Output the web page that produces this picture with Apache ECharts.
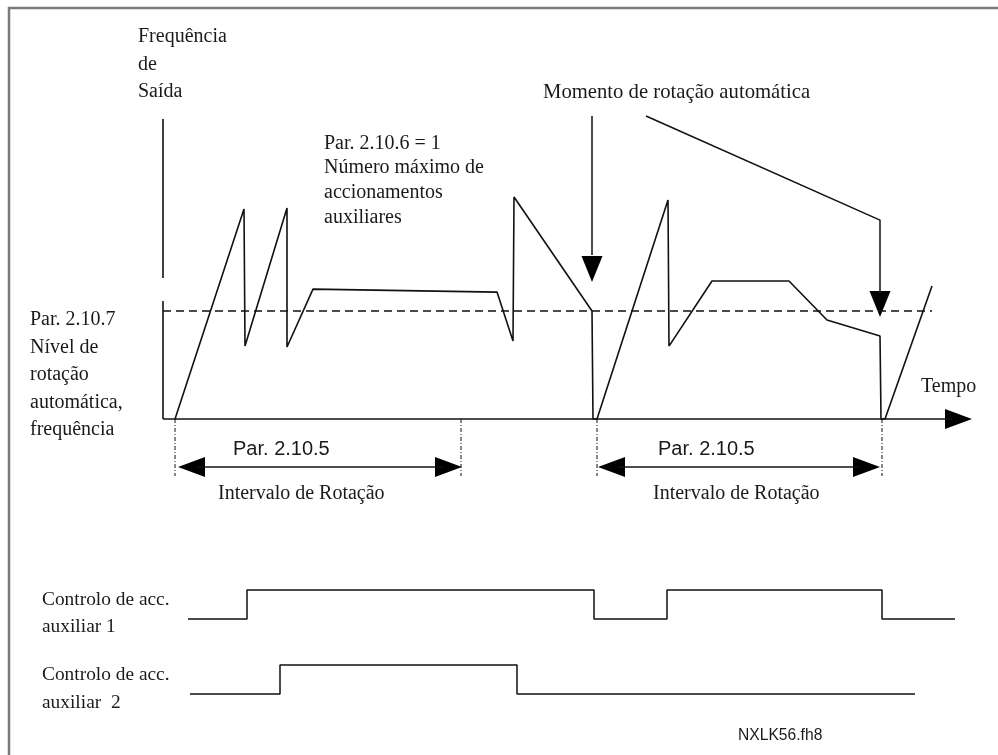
<!DOCTYPE html>
<html>
<head>
<meta charset="utf-8">
<script src="https://cdn.jsdelivr.net/npm/echarts@6/dist/echarts.min.js"></script>
<style>
html,body{margin:0;padding:0;background:#fff;}
#chart{width:998px;height:755px;}
</style>
</head>
<body>
<div id="chart"></div>
<script>
// ---------- DATA (time units / frequency units) ----------
// output frequency curve
const curveTime = [1.2, 8.1, 8.2, 12.4, 12.4, 15.0, 33.4, 35.0, 35.1, 42.9, 43.0, 43.4, 50.5, 50.6, 54.9, 62.6, 66.4, 71.7, 71.8, 72.2, 76.9];
const curveFreq = [0, 70, 24.3, 70.3, 24, 43.3, 42.3, 26, 74, 36, 0, 0, 73, 24.3, 46, 46, 33, 27.7, 0, 0, 44.3];
// auto-change frequency level (dashed)
const autoChangeLevel = 36;
const autoChangeEnd = 76.9;
// axes extents
const timeAxisEnd = 80.9;
const freqAxisTop = 100;
const freqAxisGapLow = 39.3;
const freqAxisGapHigh = 47;
// "Momento de rotação automática" pointers
const pointer1Time = [42.9, 42.9];
const pointer1Freq = [101, 54.7];
const pointer2Time = [48.3, 71.7, 71.7];
const pointer2Freq = [101, 66.3, 42];
// arrow heads (tips)
const headTime = [80.9, 42.9, 71.7, 1.5, 29.9, 43.5, 71.7];
const headFreq = [0, 45.7, 34, -16, -16, -16, -16];
const headDir  = ['right', 'down', 'down', 'left', 'right', 'left', 'right'];
// rotation intervals (Par. 2.10.5)
const intervalStart = [1.5, 43.5];
const intervalEnd = [29.9, 71.7];
const intervalLevel = -16;
const intervalMarkTime = [1.2, 29.8, 43.4, 71.9];
const intervalMarkBottom = -19;
// auxiliary drive control signals (0 = off, 1 = on)
const aux1Time  = [2.5, 8.4, 8.4, 43.1, 43.1, 50.4, 50.4, 71.9, 71.9, 79.2];
const aux1State = [0, 0, 1, 1, 0, 0, 1, 1, 0, 0];
const aux2Time  = [2.7, 11.7, 11.7, 35.4, 35.4, 75.2];
const aux2State = [0, 0, 1, 1, 0, 0];
// texts
const yTitle = ['Frequência', 'de', 'Saída'];
const levelLabel = ['Par. 2.10.7', 'Nível de', 'rotação', 'automática,', 'frequência'];
const maxAuxLabel = ['Par. 2.10.6 = 1', 'Número máximo de', 'accionamentos', 'auxiliares'];
const momentLabel = 'Momento de rotação automática';
const xTitle = 'Tempo';
const intervalParLabel = 'Par. 2.10.5';
const intervalLabel = 'Intervalo de Rotação';
const aux1Label = ['Controlo de acc.', 'auxiliar 1'];
const aux2Label = ['Controlo de acc.', 'auxiliar  2'];
const figureId = 'NXLK56.fh8';

// ---------- BUILD ----------
const zip = (a, b) => a.map((v, i) => [v, b[i]]);
const SERIF = '"Liberation Serif", "Times New Roman", serif';
const SANS = '"Liberation Sans", Arial, sans-serif';
const INK = '#111';

function lineSeries(data, opts) {
  return Object.assign({
    type: 'line', data: data, symbol: 'none', silent: true, animation: false,
    clip: false, xAxisIndex: 0, yAxisIndex: 0,
    lineStyle: { color: INK, width: 1.6 }
  }, opts || {});
}

const series = [];
// y axis (with gap)
series.push(lineSeries([[0, 0], [0, freqAxisGapLow]]));
series.push(lineSeries([[0, freqAxisGapHigh], [0, freqAxisTop]]));
// x axis
series.push(lineSeries([[0, 0], [timeAxisEnd - 2, 0]]));
// dashed level
series.push(lineSeries([[0, autoChangeLevel], [autoChangeEnd, autoChangeLevel]], {
  lineStyle: { color: INK, width: 1.4, type: [8, 5] }
}));
// frequency curve
series.push(lineSeries(zip(curveTime, curveFreq)));
// pointers
series.push(lineSeries(zip(pointer1Time, pointer1Freq), { lineStyle: { color: INK, width: 1.5 } }));
series.push(lineSeries(zip(pointer2Time, pointer2Freq), { lineStyle: { color: INK, width: 1.5 } }));
// intervals
intervalStart.forEach((s, i) => {
  series.push(lineSeries([[s + 2, intervalLevel], [intervalEnd[i] - 2, intervalLevel]], { lineStyle: { color: INK, width: 1.5 } }));
});
intervalMarkTime.forEach(t => {
  series.push(lineSeries([[t, 0], [t, intervalMarkBottom]], { lineStyle: { color: INK, width: 1, type: [4, 2, 1, 2] } }));
});
// arrow heads
series.push({
  type: 'custom', silent: true, animation: false, xAxisIndex: 0, yAxisIndex: 0, clip: false,
  data: headTime.map((t, i) => [t, headFreq[i], i]),
  renderItem: function (params, api) {
    const p = api.coord([api.value(0), api.value(1)]);
    const dir = headDir[api.value(2)];
    const L = dir === 'down' ? 26 : 27, W = dir === 'down' ? 10.5 : 10;
    let pts;
    if (dir === 'right') pts = [[p[0], p[1]], [p[0] - L, p[1] - W], [p[0] - L, p[1] + W]];
    else if (dir === 'left') pts = [[p[0], p[1]], [p[0] + L, p[1] - W], [p[0] + L, p[1] + W]];
    else pts = [[p[0], p[1]], [p[0] - W, p[1] - L], [p[0] + W, p[1] - L]];
    return { type: 'polygon', shape: { points: pts }, style: { fill: '#000' } };
  }
});
// aux signals
series.push(lineSeries(zip(aux1Time, aux1State), { xAxisIndex: 1, yAxisIndex: 1, lineStyle: { color: INK, width: 1.5 } }));
series.push(lineSeries(zip(aux2Time, aux2State), { xAxisIndex: 2, yAxisIndex: 2, lineStyle: { color: INK, width: 1.5 } }));

function txt(lines, x, top, size, lh, font, extra) {
  return Object.assign({
    type: 'text', x: x, y: top, silent: true,
    style: { text: Array.isArray(lines) ? lines.join('\n') : lines, font: size + 'px ' + font,
      lineHeight: lh, fill: '#1a1a1a', verticalAlign: 'top', align: 'left' }
  }, extra || {});
}

const graphic = [
  // frame (top & left visible)
  { type: 'line', silent: true, shape: { x1: 8, y1: 8, x2: 998, y2: 8 }, style: { stroke: '#7a7a7a', lineWidth: 2.5 } },
  { type: 'line', silent: true, shape: { x1: 9, y1: 7, x2: 9, y2: 755 }, style: { stroke: '#7a7a7a', lineWidth: 2.5 } },
  txt(yTitle, 138, 23, 20, 27.5, SERIF),
  txt(maxAuxLabel, 324, 131, 20, 24.7, SERIF),
  txt(momentLabel, 543, 82, 20.7, 22, SERIF),
  txt(levelLabel, 30, 306, 20, 27.5, SERIF),
  txt(xTitle, 921, 376, 20, 22, SERIF),
  txt(intervalParLabel, 233, 438, 20, 22, SANS),
  txt(intervalParLabel, 658, 438, 20, 22, SANS),
  txt(intervalLabel, 218, 483, 20, 22, SERIF),
  txt(intervalLabel, 653, 483, 20, 22, SERIF),
  txt(aux1Label, 42, 587, 19, 27, SERIF, { scaleX: 1.02 }),
  txt(aux2Label, 42, 661, 19, 28, SERIF, { scaleX: 1.02 }),
  txt(figureId, 738, 726, 17, 18, SANS, { scaleX: 0.92 })
];

const chart = echarts.init(document.getElementById('chart'), null, { renderer: 'canvas' });
chart.setOption({
  backgroundColor: '#fff',
  animation: false,
  grid: [
    { left: 163, top: 104, width: 810, height: 390 },
    { left: 163, top: 590, width: 810, height: 29 },
    { left: 163, top: 665, width: 810, height: 29 }
  ],
  xAxis: [0, 1, 2].map(i => ({ type: 'value', gridIndex: i, min: 0, max: 81, show: false })),
  yAxis: [
    { type: 'value', gridIndex: 0, min: -25, max: 105, show: false },
    { type: 'value', gridIndex: 1, min: 0, max: 1, show: false },
    { type: 'value', gridIndex: 2, min: 0, max: 1, show: false }
  ],
  series: series,
  graphic: graphic
});
</script>
</body>
</html>
